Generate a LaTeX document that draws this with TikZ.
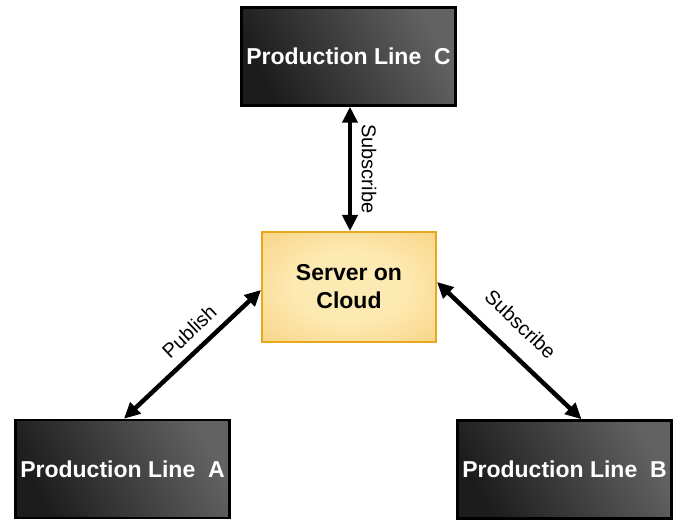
\documentclass[tikz,border=0pt]{standalone}
\usepackage{fontspec}
\setmainfont{Liberation Sans}
\usetikzlibrary{arrows.meta,calc}
\definecolor{darkA}{HTML}{1C1C1C}
\definecolor{darkB}{HTML}{626262}
\definecolor{goldIn}{HTML}{FDE9B2}
\definecolor{goldMid}{HTML}{F8D586}
\definecolor{goldEdge}{HTML}{F2BD42}
\definecolor{goldOut}{HTML}{EEAE25}
\definecolor{goldLine}{HTML}{E9A71E}
\pgfdeclareradialshading{srvshade}{\pgfpoint{0bp}{0bp}}{color(0bp)=(goldIn); color(16bp)=(goldIn); color(36bp)=(goldMid); color(50bp)=(goldEdge); color(64bp)=(goldOut); color(71bp)=(goldOut)}
\tikzset{
  linebox/.style={draw=black, line width=2.5pt, minimum width=214pt, minimum height=98pt,
    top color=darkB, bottom color=darkA, shading angle=-62,
    text=white, font=\fontsize{23}{27}\selectfont\bfseries, inner sep=0pt},
  serverbox/.style={draw=goldLine, line width=2pt, minimum width=174pt, minimum height=110pt,
    shading=srvshade,
    font=\fontsize{23}{28}\selectfont\bfseries, align=center, inner sep=0pt},
  link/.style={line width=4.5pt, {Triangle[length=16pt,width=15pt]}-{Triangle[length=16pt,width=15pt]}},
  lbl/.style={font=\fontsize{20}{23}\selectfont, sloped, above=6pt}
}
\begin{document}
\begin{tikzpicture}[x=1pt,y=-1pt]
\useasboundingbox (0,0) rectangle (681,524);
\node[linebox] (C) at (348.5,56.5) {Production Line~~C};
\node[serverbox] (S) at (349,287) {Server on\\Cloud};
\node[linebox] (A) at (122.5,469) {Production Line~~A};
\node[linebox] (B) at (564.5,469.5) {Production Line~~B};
\draw[link] ([xshift=1.5pt]C.south) -- node[lbl, pos=0.5] {Subscribe} ([xshift=1pt]S.north);
\draw[link] ([xshift=1.5pt]A.north) -- node[lbl, pos=0.57] {Publish} ([yshift=-3pt]S.west);
\draw[link] ([yshift=5pt]S.east) -- node[lbl, pos=0.45, above=8pt] {Subscribe} ([xshift=17pt]B.north);
\end{tikzpicture}
\end{document}
